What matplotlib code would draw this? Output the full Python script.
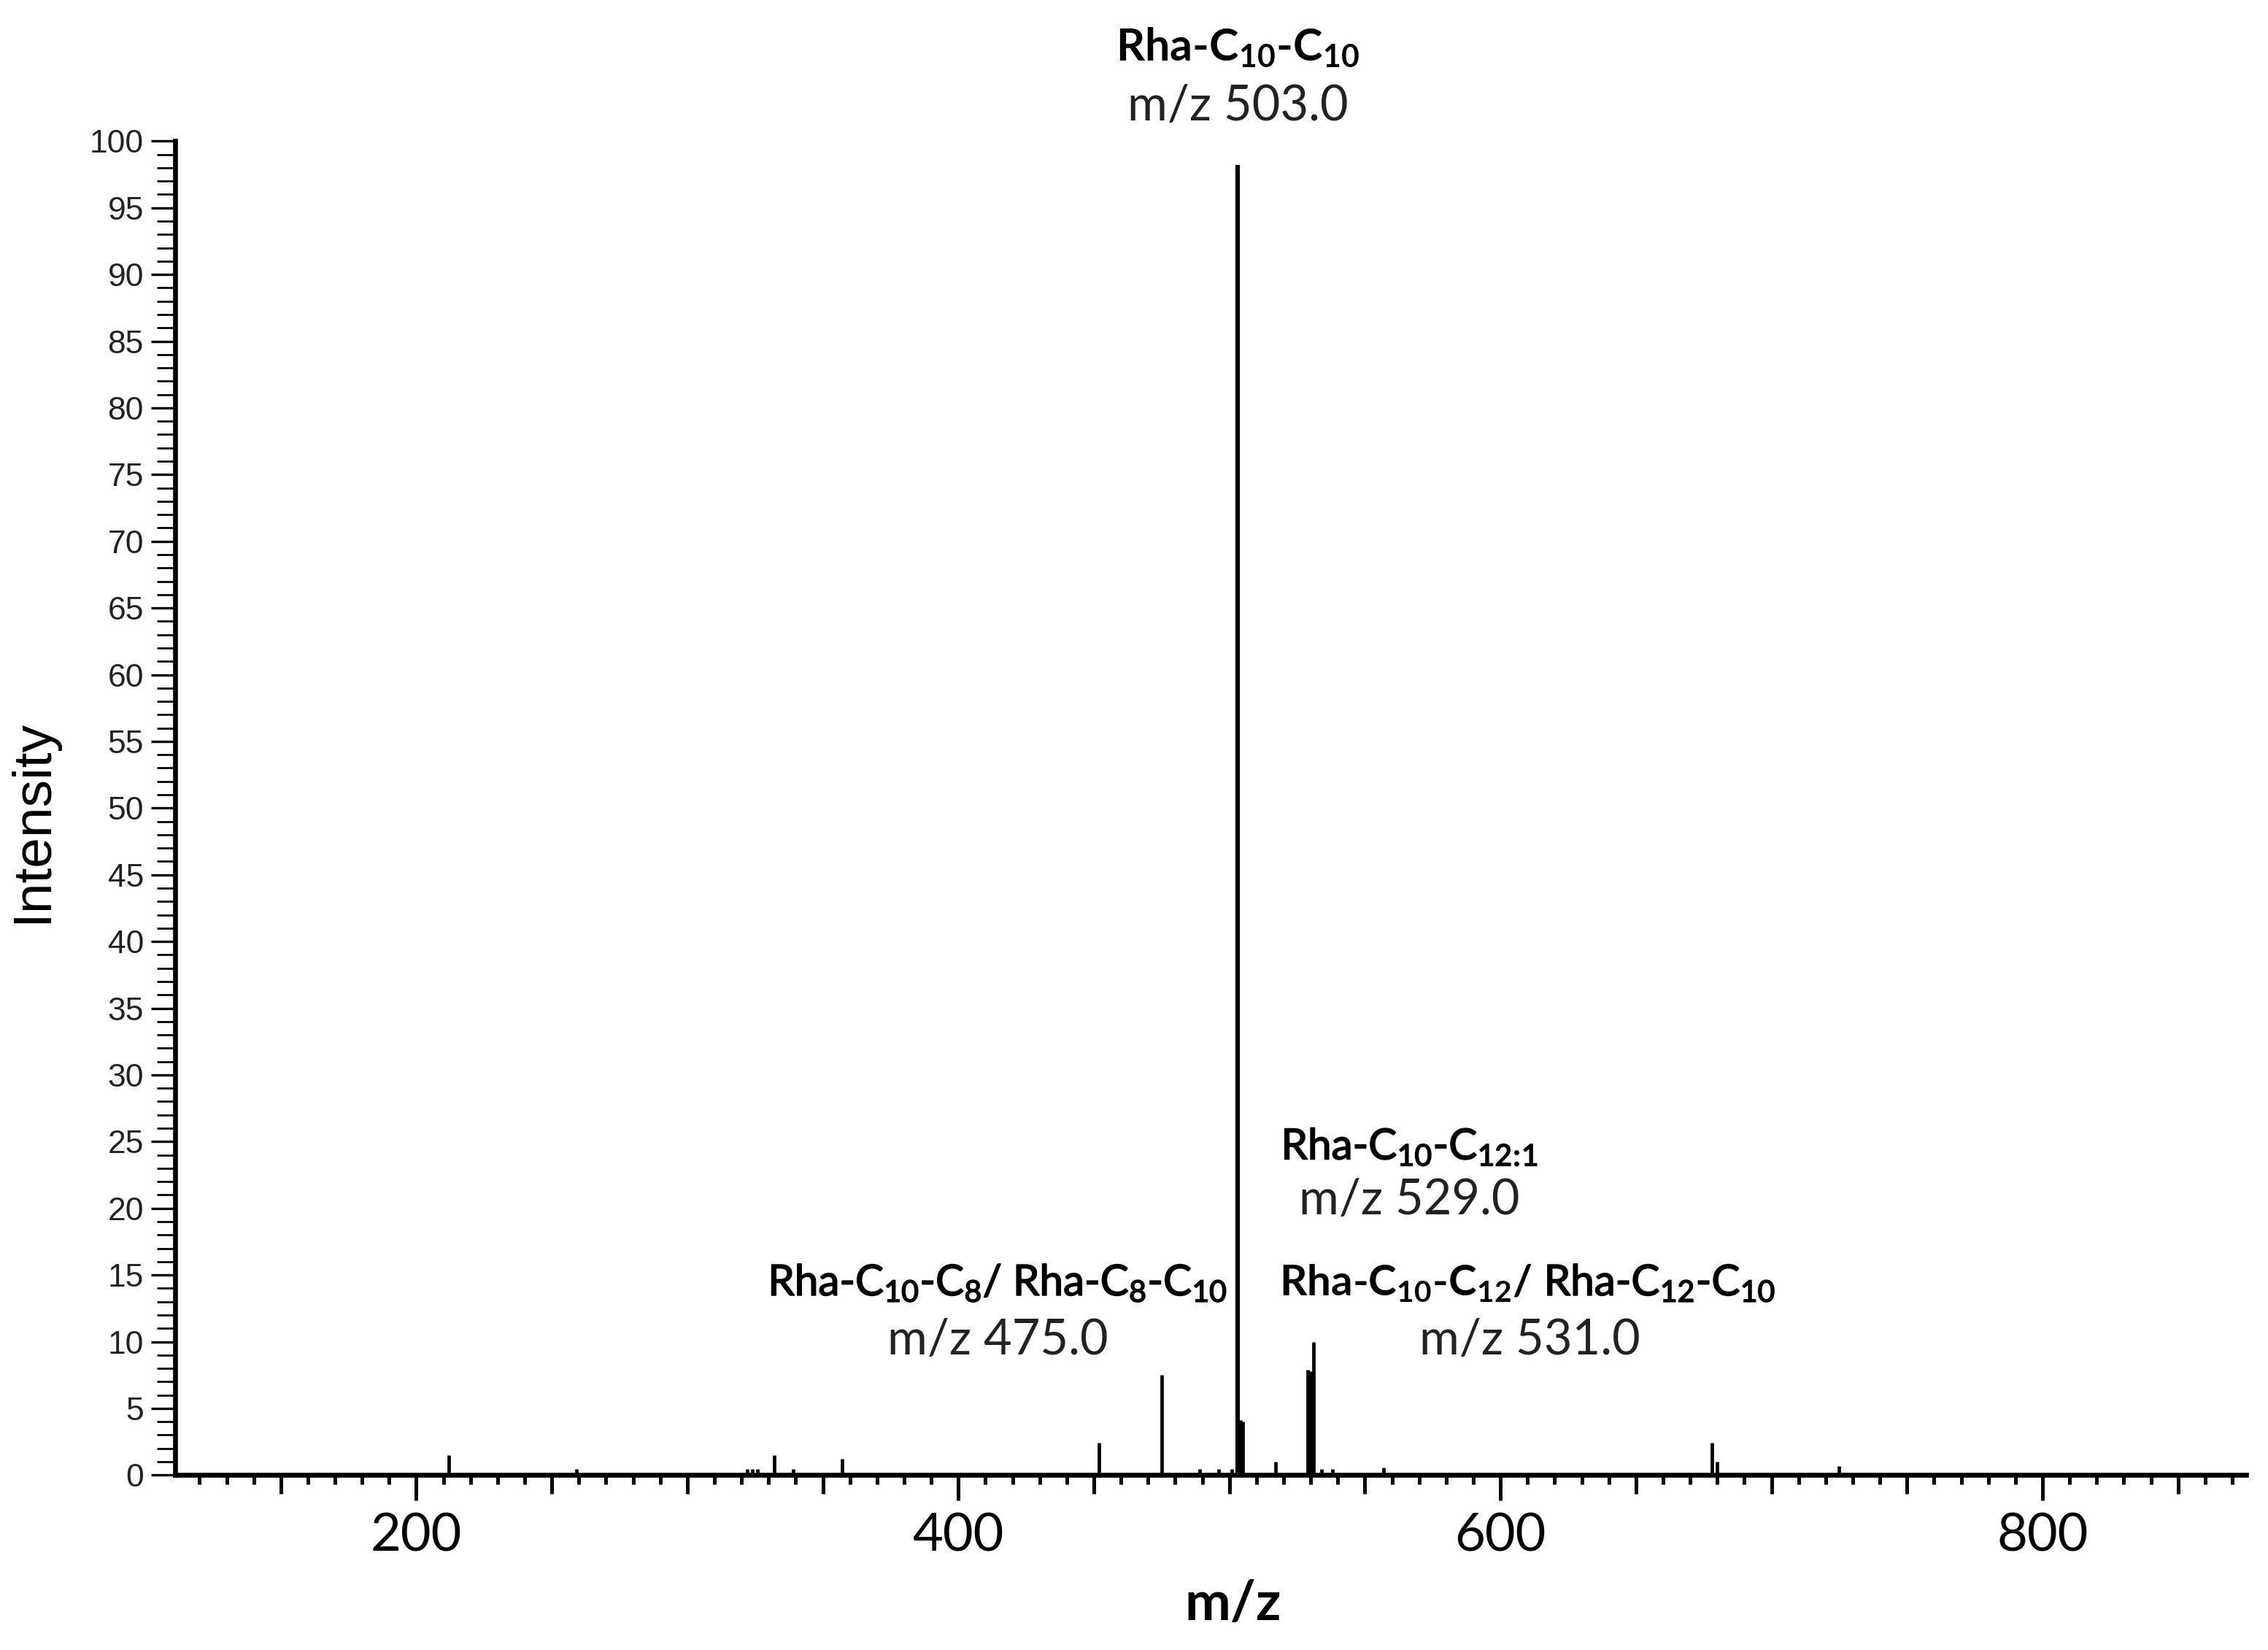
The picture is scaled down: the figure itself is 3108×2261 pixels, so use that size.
import numpy as np
import matplotlib
matplotlib.use('Agg')
from matplotlib import pyplot as plt
from matplotlib import patheffects
from matplotlib.ticker import FixedLocator, FuncFormatter, MultipleLocator

# peak list (m/z, relative intensity)
mz = [163, 170, 212, 259, 310, 322, 324, 326, 332, 339, 357, 386, 452,
      475, 477, 489, 496, 501, 503, 504, 505, 517, 529, 530, 531, 534,
      538, 557, 560, 635, 678, 680, 714, 716, 725, 734, 788]
intensity = [0.2, 0.2, 1.5, 0.45, 0.2, 0.45, 0.45, 0.45, 1.5, 0.45, 1.2, 0.2, 2.4,
             7.5, 0.2, 0.45, 0.45, 0.45, 98.2, 4.1, 4.0, 1.0, 7.9, 7.8, 10.0, 0.45,
             0.45, 0.55, 0.2, 0.15, 2.4, 1.0, 0.2, 0.2, 0.7, 0.2, 0.2]

x_range = (111, 875)
y_range = (0, 100)
x_labelled = [200, 400, 600, 800]

plt.rcParams['mathtext.fontset'] = 'custom'
plt.rcParams['mathtext.rm'] = 'Lato'

fig = plt.figure(figsize=(15.54, 11.305), dpi=200)
ax = fig.add_axes([0.0772, 0.106, 0.913, 0.8085])

ax.vlines(mz, 0, intensity, colors='black', linewidth=1.7)
top = int(np.argmax(intensity))
ax.vlines([mz[top]], 0, [intensity[top]], colors='black', linewidth=2.2)

ax.set_xlim(*x_range)
ax.set_ylim(*y_range)

for s in ['top', 'right']:
    ax.spines[s].set_visible(False)
for s in ['left', 'bottom']:
    ax.spines[s].set_linewidth(2.4)

# y axis: labels every 5, minor every 1
ax.yaxis.set_major_locator(MultipleLocator(5))
ax.yaxis.set_minor_locator(MultipleLocator(1))
ax.tick_params(axis='y', which='major', length=11.9, width=1.2, pad=3.6,
               labelsize=16, labelcolor='#222222')
ax.tick_params(axis='y', which='minor', length=9, width=1.0)
for lab in ax.get_yticklabels():
    lab.set_family('Liberation Sans')

# x axis: ticks every 50 (long ones with labels at 200s), minor every 10
major_x = np.arange(150, 876, 50)
ax.xaxis.set_major_locator(FixedLocator(major_x))
ax.xaxis.set_minor_locator(MultipleLocator(10))
ax.xaxis.set_major_formatter(FuncFormatter(
    lambda v, p: '%d' % v if int(round(v)) in x_labelled else ''))
ax.tick_params(axis='x', which='major', length=9.4, width=1.8, pad=9,
               labelsize=26)
ax.tick_params(axis='x', which='minor', length=4.7, width=1.8)
for t, v in zip(ax.xaxis.get_major_ticks(), major_x):
    if v in x_labelled:
        t.tick1line.set_markersize(12.6)
for lab in ax.get_xticklabels():
    lab.set_family('Lato')

ax.set_xlabel('m/z', fontsize=27, fontweight='bold', family='Lato')
ax.xaxis.set_label_coords(0.511, -0.097)
ax.xaxis.label.set_va('center')
ax.set_ylabel('Intensity', fontsize=27, family='Liberation Sans')
ax.yaxis.set_label_coords(-0.069, 0.49)
ax.yaxis.label.set_va('center')

# peak annotations
fs = 24
fl = 21
semi = [patheffects.withStroke(linewidth=0.6, foreground='black')]
sub = lambda n: r'$\mathregular{_{%s}}$' % n
ax.text(503, 107.0, 'Rha-C' + sub('10') + '-C' + sub('10'), ha='center', va='center',
        fontsize=22, fontweight='bold', family='Lato')
ax.text(503, 102.6, 'm/z 503.0', ha='center', va='center', fontsize=fs,
        family='Lato', color='#222222')

ax.text(414.5, 14.4, 'Rha-C' + sub('10') + '-C' + sub('8') + '/ Rha-C' + sub('8') + '-C' + sub('10'),
        ha='center', va='center', fontsize=fl, family='Lato', path_effects=semi)
ax.text(414.5, 10.1, 'm/z 475.0', ha='center', va='center', fontsize=fs,
        family='Lato', color='#222222')

ax.text(566.5, 24.6, 'Rha-C' + sub('10') + '-C' + sub(r'12\!:\!1'), ha='center', va='center',
        fontsize=fl, family='Lato', path_effects=semi)
ax.text(566.5, 20.6, 'm/z 529.0', ha='center', va='center', fontsize=fs,
        family='Lato', color='#222222')

ax.text(612, 14.4, 'Rha-C' + sub('10') + '-C' + sub('12') + '/', ha='right', va='center',
        fontsize=fl, fontweight='bold', family='Lato')
ax.text(612, 14.4, ' Rha-C' + sub('12') + '-C' + sub('10'), ha='left', va='center',
        fontsize=fl, family='Lato', path_effects=semi)
ax.text(610.7, 10.1, 'm/z 531.0', ha='center', va='center', fontsize=fs,
        family='Lato', color='#222222')

fig.savefig('out.png', dpi=200)
